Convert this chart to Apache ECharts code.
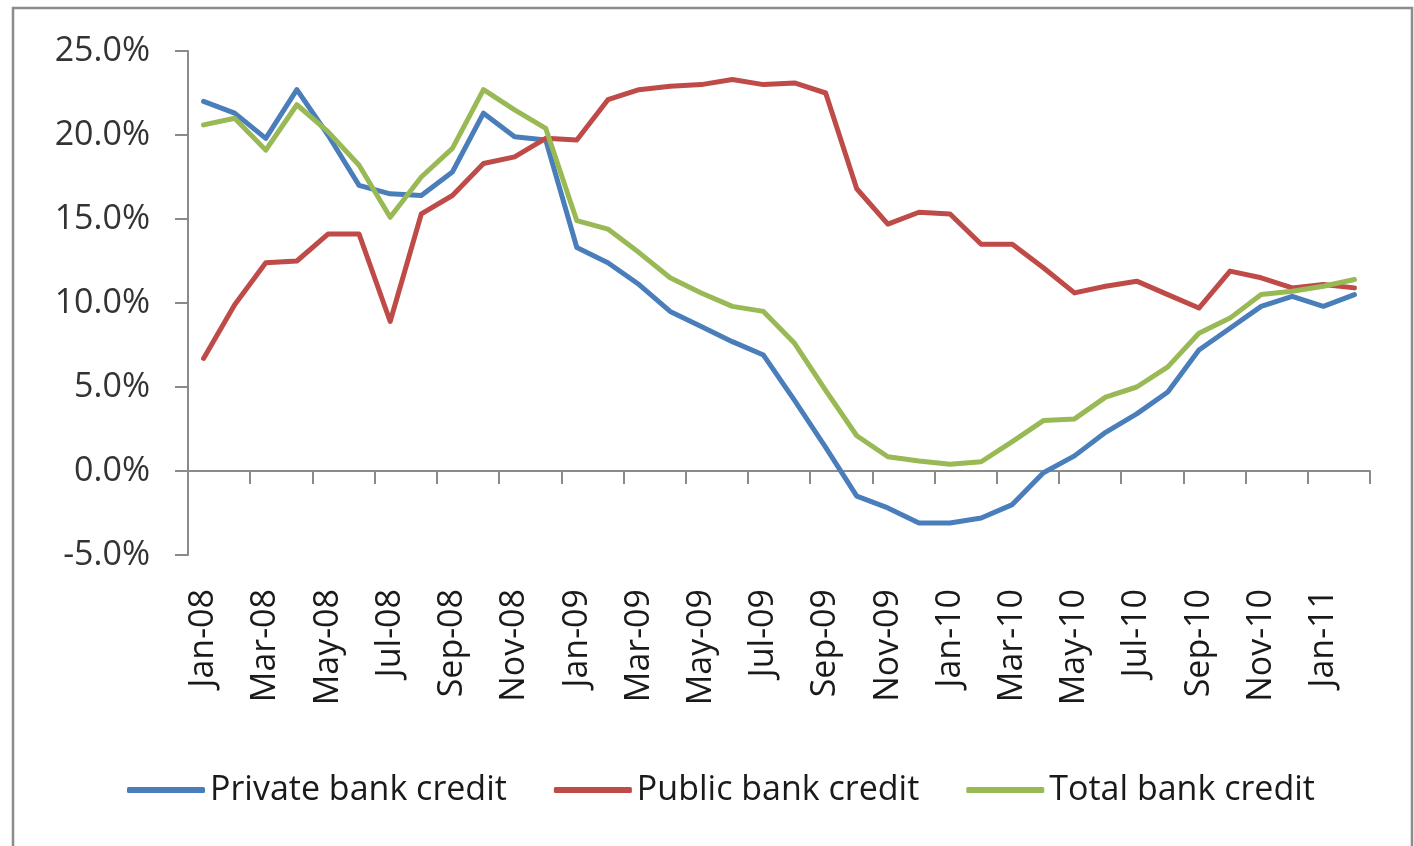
<!DOCTYPE html>
<html>
<head>
<meta charset="utf-8">
<script src="https://cdn.jsdelivr.net/npm/echarts@6/dist/echarts.min.js"></script>
<style>
html,body{margin:0;padding:0;background:#fff;}
#chart{width:1414px;height:846px;}
</style>
</head>
<body>
<div id="chart"></div>
<script>
const months = ['Jan-08','Feb-08','Mar-08','Apr-08','May-08','Jun-08','Jul-08','Aug-08','Sep-08','Oct-08','Nov-08','Dec-08',
  'Jan-09','Feb-09','Mar-09','Apr-09','May-09','Jun-09','Jul-09','Aug-09','Sep-09','Oct-09','Nov-09','Dec-09',
  'Jan-10','Feb-10','Mar-10','Apr-10','May-10','Jun-10','Jul-10','Aug-10','Sep-10','Oct-10','Nov-10','Dec-10',
  'Jan-11','Feb-11'];
const privateCredit = [22.0,21.3,19.8,22.7,20.0,17.0,16.5,16.4,17.8,21.3,19.9,19.7,
  13.3,12.4,11.1,9.5,8.6,7.7,6.9,4.2,1.4,-1.5,-2.2,-3.1,
  -3.1,-2.8,-2.0,-0.1,0.9,2.3,3.4,4.7,7.2,8.5,9.8,10.4,
  9.8,10.5];
const publicCredit = [6.7,9.9,12.4,12.5,14.1,14.1,8.9,15.3,16.4,18.3,18.7,19.8,
  19.7,22.1,22.7,22.9,23.0,23.3,23.0,23.1,22.5,16.8,14.7,15.4,
  15.3,13.5,13.5,12.1,10.6,11.0,11.3,10.5,9.7,11.9,11.5,10.9,
  11.1,10.9];
const totalCredit = [20.6,21.0,19.1,21.8,20.2,18.2,15.1,17.5,19.2,22.7,21.5,20.4,
  14.9,14.4,13.0,11.5,10.6,9.8,9.5,7.6,4.8,2.1,0.85,0.6,
  0.4,0.55,1.75,3.0,3.1,4.4,5.0,6.2,8.2,9.1,10.5,10.7,
  11.0,11.4];
const seriesNames = ['Private bank credit','Public bank credit','Total bank credit'];
const yMin = -5, yMax = 25, yStep = 5;

const FONT = '"Open Sans", sans-serif';
const chart = echarts.init(document.getElementById('chart'), null, {renderer:'canvas'});
const mk = (name, data, color) => ({
  name, type:'line', data, xAxisIndex:0, symbol:'none', smooth:false,
  lineStyle:{color, width:5, join:'round', cap:'round'}, itemStyle:{color}
});
chart.setOption({
  animation:false,
  backgroundColor:'#fff',
  graphic:[{type:'rect', shape:{x:13, y:8, width:1399, height:900}, style:{fill:'none', stroke:'#8c8c8c', lineWidth:2.5}}],
  grid:{left:188, right:44, top:51, bottom:291},
  legend:{
    data:seriesNames, left:127, top:772, padding:0,
    icon:'roundRect', itemWidth:78, itemHeight:6, itemGap:47,
    textStyle:{fontFamily:FONT, fontSize:34, color:'#1a1a1a', lineHeight:36}
  },
  xAxis:[{
    type:'category', data:months, boundaryGap:true,
    axisLine:{show:true, onZero:true, lineStyle:{color:'#8a8a8a', width:2}},
    axisTick:{show:true, interval:1, length:13, lineStyle:{color:'#8a8a8a', width:2}},
    axisLabel:{show:false}, splitLine:{show:false}
  },{
    type:'category', data:months, boundaryGap:true, position:'bottom',
    axisLine:{show:false, onZero:false}, axisTick:{show:false},
    axisLabel:{show:true, interval:1, rotate:90, margin:34, fontFamily:FONT, fontSize:34, color:'#1a1a1a'},
    splitLine:{show:false}
  }],
  yAxis:{
    type:'value', min:yMin, max:yMax, interval:yStep,
    axisLine:{show:true, lineStyle:{color:'#8a8a8a', width:2}},
    axisTick:{show:true, length:13, lineStyle:{color:'#8a8a8a', width:2}},
    splitLine:{show:false},
    axisLabel:{margin:38, fontFamily:FONT, fontSize:34, color:'#333', formatter:v=>v.toFixed(1)+'%'}
  },
  series:[
    mk(seriesNames[0], privateCredit, '#4A7EBB'),
    mk(seriesNames[1], publicCredit, '#BE4B48'),
    mk(seriesNames[2], totalCredit, '#98B954')
  ]
});
</script>
</body>
</html>
